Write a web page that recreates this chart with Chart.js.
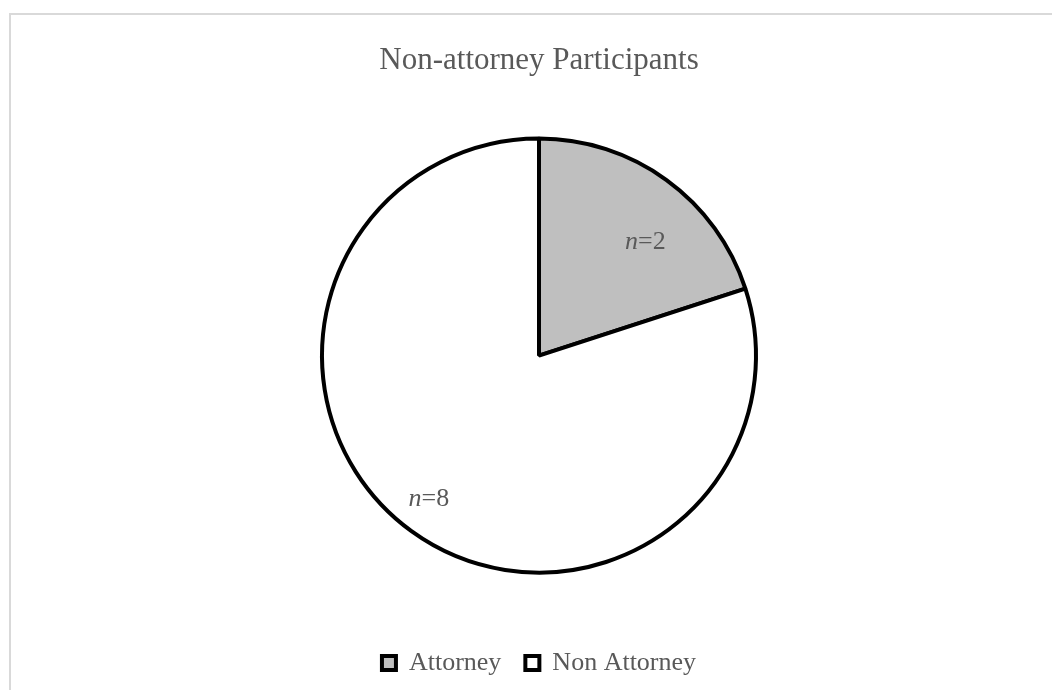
<!DOCTYPE html>
<html>
<head>
<meta charset="utf-8">
<script src="https://cdn.jsdelivr.net/npm/chart.js@4.4.1/dist/chart.umd.min.js"></script>
<style>
  html, body { margin: 0; padding: 0; background: #fff; overflow: hidden; }
  #wrap { position: relative; width: 1052px; height: 690px; }
  #frame { position: absolute; left: 9px; top: 13px; width: 1100px; height: 720px;
           border: 2px solid #d9d9d9; box-sizing: border-box; pointer-events: none; }
  canvas { position: absolute; left: 0; top: 0; }
</style>
</head>
<body>
<div id="wrap">
  <canvas id="chart" width="1052" height="690"></canvas>
  <div id="frame"></div>
</div>
<script>
const titleText = 'Non-attorney Participants';
const categories = ['Attorney', 'Non Attorney'];
const counts = [2, 8];
const sliceColors = ['#bfbfbf', '#ffffff'];

const serif = '"Liberation Serif", "Times New Roman", serif';
const textGray = '#595959';

// n=.. labels, "n" in italic like the original
const countLabels = {
  id: 'countLabels',
  afterDatasetsDraw(chart) {
    const ctx = chart.ctx;
    const meta = chart.getDatasetMeta(0);
    const radiusFactor = [0.72, 0.83];
    const angleShift = [0.12, 0.03];
    ctx.save();
    ctx.fillStyle = textGray;
    ctx.textBaseline = 'middle';
    meta.data.forEach((arc, i) => {
      const p = arc.getProps(['x', 'y', 'startAngle', 'endAngle', 'outerRadius']);
      const mid = (p.startAngle + p.endAngle) / 2 + angleShift[i];
      const r = p.outerRadius * radiusFactor[i];
      const cx = p.x + Math.cos(mid) * r;
      const cy = p.y + Math.sin(mid) * r + 1;
      const italic = 'italic 26px ' + serif;
      const normal = '26px ' + serif;
      ctx.font = italic;
      const w1 = ctx.measureText('n').width;
      ctx.font = normal;
      const rest = '=' + counts[i];
      const w2 = ctx.measureText(rest).width;
      let x = cx - (w1 + w2) / 2;
      ctx.textAlign = 'left';
      ctx.font = italic;
      ctx.fillText('n', x, cy);
      ctx.font = normal;
      ctx.fillText(rest, x + w1, cy);
    });
    ctx.restore();
  }
};

new Chart(document.getElementById('chart'), {
  type: 'pie',
  data: {
    labels: categories,
    datasets: [{
      data: counts,
      backgroundColor: sliceColors,
      borderColor: '#000000',
      borderWidth: 4,
      radius: 217
    }]
  },
  options: {
    responsive: false,
    animation: false,
    layout: { padding: { top: 32, left: 26, right: 0, bottom: 4 } },
    plugins: {
      title: {
        display: true,
        text: titleText,
        color: textGray,
        font: { family: serif, size: 31, weight: 'normal' },
        padding: { top: 10, bottom: 6 }
      },
      legend: {
        position: 'bottom',
        labels: {
          color: textGray,
          font: { family: serif, size: 26 },
          boxWidth: 14,
          boxHeight: 14,
          padding: 24
        }
      },
      tooltip: { enabled: false }
    }
  },
  plugins: [countLabels]
});
</script>
</body>
</html>
